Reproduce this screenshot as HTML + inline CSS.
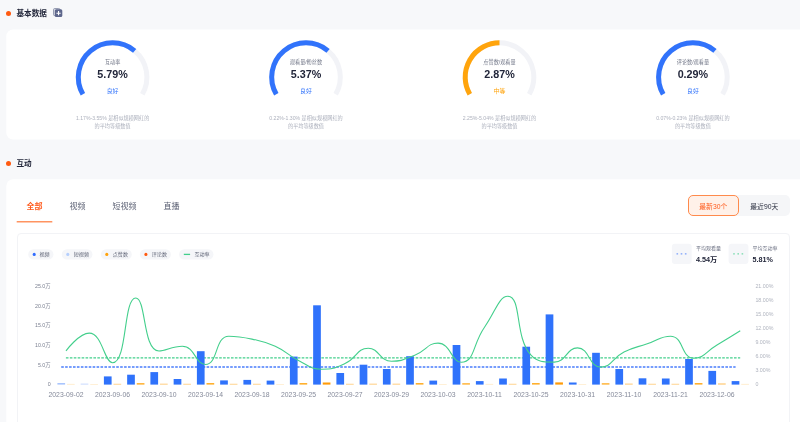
<!DOCTYPE html>
<html lang="zh-CN">
<head>
<meta charset="utf-8">
<title>基本数据</title>
<style>
*{box-sizing:border-box;margin:0;padding:0}
html,body{width:800px;height:422px;overflow:hidden}
body{background:#f7f8fa;font-family:"Liberation Sans", "Noto Sans CJK SC", sans-serif;position:relative;color:#22263a}
.sec{position:absolute;left:0;height:12px;display:flex;align-items:center}
.sec .dot{position:absolute;left:6px;top:3.5px;width:5px;height:5px;border-radius:50%;background:#ff5a10}
.sec h2{position:absolute;left:16.5px;top:0.7px;font-size:7.6px;line-height:12px;font-weight:700;white-space:nowrap;color:#22263a}
.card{position:absolute;left:6px;width:794px}
svg.bg{z-index:0}
.tabs{position:absolute;left:0;top:0}
.tab{position:absolute;top:21px;font-size:8px;line-height:12px;color:#5d6275;white-space:nowrap;transform:translateX(-50%)}
.tab.on{color:#ff5a1c;font-weight:700}
.ink{position:absolute;left:10.6px;top:40.9px;width:35.8px;height:1.5px;background:#ff9a68;border-radius:1px}
.btn{position:absolute;top:15px;height:21px;font-size:6.8px;line-height:23.2px;text-align:center;white-space:nowrap}
.btn.a{left:681.7px;width:51.2px;border:1px solid #ff8a4c;background:#fff1e9;color:#ff5a1c;border-radius:5px;line-height:21.2px;z-index:2}
.btn.b{left:730px;width:53.6px;background:#f5f6f8;color:#2a2e3f;border-radius:0 5px 5px 0;padding-left:3px}
.inner{position:absolute;left:10.6px;top:53px;width:773px;height:200px;border:1px solid #f2f3f6;border-radius:4px}
svg{position:absolute;left:0;top:0;font-family:"Liberation Sans", "Noto Sans CJK SC", sans-serif}
.copy{position:absolute;left:53px;top:8px;width:10px;height:10px}
</style>
</head>
<body>
<svg class="bg" width="800" height="422" viewBox="0 0 800 422"><rect x="6.3" y="29.5" width="810" height="110.1" rx="6.8" fill="#fff"/><rect x="6.3" y="179.2" width="810" height="300" rx="6.8" fill="#fff"/></svg>
<div class="sec" style="top:7px"><span class="dot"></span><h2>基本数据</h2></div>
<div class="card" style="top:29px;height:110.4px"></div>
<div class="sec" style="top:157px"><span class="dot"></span><h2>互动</h2></div>
<div class="card" style="top:180px;height:260px">
  <div class="tab on" style="left:28.4px">全部</div>
  <div class="tab" style="left:71.6px">视频</div>
  <div class="tab" style="left:118.5px">短视频</div>
  <div class="tab" style="left:165.5px">直播</div>
  <div class="btn b">最近90天</div>
  <div class="btn a">最新30个</div>
  <div class="inner"></div>
</div>
<svg width="800" height="422" viewBox="0 0 800 422">
<rect x="16.6" y="220.9" width="35.8" height="1.5" rx="0.5" fill="#ff9461"/>
<g id="copy-icon"><rect x="53.5" y="8.5" width="6.5" height="7.2" rx="1.3" fill="#dcdfe8" stroke="#8289a2" stroke-width="0.8"/><rect x="54.8" y="9.3" width="7.5" height="7.7" rx="1.5" fill="#5e678c"/><path d="M58.55 11.1v4.2M56.45 13.2h4.2" stroke="#fff" stroke-width="1.1"/></g>
<g id="gauges">
<path d="M82.90 94.25A34.3 34.3 0 1 1 142.30 94.25" fill="none" stroke="#f2f3f7" stroke-width="5.0"/>
<path d="M82.90 94.25A34.3 34.3 0 0 1 134.65 50.82" fill="none" stroke="#3173fb" stroke-width="5.0"/>
<text x="112.6" y="63.8" text-anchor="middle" font-size="5.15" fill="#737889">互动率</text>
<text x="112.6" y="77.6" text-anchor="middle" font-size="10.6" font-weight="700" fill="#22263a" textLength="30.5" lengthAdjust="spacingAndGlyphs">5.79%</text>
<text x="112.6" y="92.8" text-anchor="middle" font-size="5.9" font-weight="400" fill="#3173fb">良好</text>
<text x="112.6" y="120" text-anchor="middle" font-size="5.15" fill="#adb1bd">1.17%-3.55% 是相似规模网红的</text>
<text x="112.6" y="127.6" text-anchor="middle" font-size="5.15" fill="#adb1bd">的平均等级数值</text>
<path d="M276.30 94.25A34.3 34.3 0 1 1 335.70 94.25" fill="none" stroke="#f2f3f7" stroke-width="5.0"/>
<path d="M276.30 94.25A34.3 34.3 0 0 1 328.05 50.82" fill="none" stroke="#3173fb" stroke-width="5.0"/>
<text x="306.0" y="63.8" text-anchor="middle" font-size="5.15" fill="#737889">观看量/粉丝数</text>
<text x="306.0" y="77.6" text-anchor="middle" font-size="10.6" font-weight="700" fill="#22263a" textLength="30.5" lengthAdjust="spacingAndGlyphs">5.37%</text>
<text x="306.0" y="92.8" text-anchor="middle" font-size="5.9" font-weight="400" fill="#3173fb">良好</text>
<text x="306.0" y="120" text-anchor="middle" font-size="5.15" fill="#adb1bd">0.22%-1.30% 是相似规模网红的</text>
<text x="306.0" y="127.6" text-anchor="middle" font-size="5.15" fill="#adb1bd">的平均等级数值</text>
<path d="M469.80 94.25A34.3 34.3 0 1 1 529.20 94.25" fill="none" stroke="#f2f3f7" stroke-width="5.0"/>
<path d="M469.80 94.25A34.3 34.3 0 0 1 499.50 42.80" fill="none" stroke="#ffa40c" stroke-width="5.0"/>
<text x="499.5" y="63.8" text-anchor="middle" font-size="5.15" fill="#737889">点赞数/观看量</text>
<text x="499.5" y="77.6" text-anchor="middle" font-size="10.6" font-weight="700" fill="#22263a" textLength="30.5" lengthAdjust="spacingAndGlyphs">2.87%</text>
<text x="499.5" y="92.8" text-anchor="middle" font-size="5.9" font-weight="400" fill="#ffa40c">中等</text>
<text x="499.5" y="120" text-anchor="middle" font-size="5.15" fill="#adb1bd">2.25%-5.04% 是相似规模网红的</text>
<text x="499.5" y="127.6" text-anchor="middle" font-size="5.15" fill="#adb1bd">的平均等级数值</text>
<path d="M663.20 94.25A34.3 34.3 0 1 1 722.60 94.25" fill="none" stroke="#f2f3f7" stroke-width="5.0"/>
<path d="M663.20 94.25A34.3 34.3 0 0 1 714.95 50.82" fill="none" stroke="#3173fb" stroke-width="5.0"/>
<text x="692.9" y="63.8" text-anchor="middle" font-size="5.15" fill="#737889">评论数/观看量</text>
<text x="692.9" y="77.6" text-anchor="middle" font-size="10.6" font-weight="700" fill="#22263a" textLength="30.5" lengthAdjust="spacingAndGlyphs">0.29%</text>
<text x="692.9" y="92.8" text-anchor="middle" font-size="5.9" font-weight="400" fill="#3173fb">良好</text>
<text x="692.9" y="120" text-anchor="middle" font-size="5.15" fill="#adb1bd">0.07%-0.23% 是相似规模网红的</text>
<text x="692.9" y="127.6" text-anchor="middle" font-size="5.15" fill="#adb1bd">的平均等级数值</text>
</g>
<g id="legend">
<rect x="28.2" y="249.2" width="25.3" height="10.4" rx="5.2" fill="#f5f6f9"/>
<circle cx="34.2" cy="254.4" r="1.55" fill="#2f6bff"/>
<text x="44.6" y="256.4" text-anchor="middle" font-size="5.05" fill="#5f6476">视频</text>
<rect x="61.7" y="249.2" width="30.8" height="10.4" rx="5.2" fill="#f5f6f9"/>
<circle cx="67.8" cy="254.4" r="1.55" fill="#b5cffd"/>
<text x="81.4" y="256.4" text-anchor="middle" font-size="5.05" fill="#5f6476">短视频</text>
<rect x="100.8" y="249.2" width="31.0" height="10.4" rx="5.2" fill="#f5f6f9"/>
<circle cx="106.8" cy="254.4" r="1.55" fill="#ffa30d"/>
<text x="120.4" y="256.4" text-anchor="middle" font-size="5.05" fill="#5f6476">点赞数</text>
<rect x="139.8" y="249.2" width="31.1" height="10.4" rx="5.2" fill="#f5f6f9"/>
<circle cx="145.9" cy="254.4" r="1.55" fill="#ff5a10"/>
<text x="159.4" y="256.4" text-anchor="middle" font-size="5.05" fill="#5f6476">评论数</text>
<rect x="179.1" y="249.2" width="34.4" height="10.4" rx="5.2" fill="#f5f6f9"/>
<path d="M183.8 254.4H190.1" stroke="#43cf8c" stroke-width="1.3"/>
<text x="202" y="256.4" text-anchor="middle" font-size="5.05" fill="#5f6476">互动率</text>
<rect x="671.9" y="243.8" width="19.8" height="20.2" rx="3" fill="#f5f6f9"/>
<path d="M676.5 253.9h11" stroke="#4a7dfc" stroke-width="0.9" stroke-dasharray="1.6 2.6" fill="none"/>
<text x="695.9" y="249.6" font-size="5" fill="#6d7284">平均观看量</text>
<text x="695.9" y="262.0" font-size="7.2" font-weight="700" fill="#22263a">4.54万</text>
<rect x="728.6" y="243.8" width="19.8" height="20.2" rx="3" fill="#f5f6f9"/>
<path d="M733.2 253.9h11" stroke="#43cf8c" stroke-width="0.9" stroke-dasharray="1.6 2.6" fill="none"/>
<text x="752.6" y="249.6" font-size="5" fill="#6d7284">平均互动率</text>
<text x="752.6" y="262.0" font-size="7.2" font-weight="700" fill="#22263a">5.81%</text>
</g>
<g id="chart">
<text x="50.6" y="386.1" text-anchor="end" font-size="5.3" fill="#7a7f90">0</text>
<text x="50.6" y="366.5" text-anchor="end" font-size="5.3" fill="#7a7f90">5.0万</text>
<text x="50.6" y="346.9" text-anchor="end" font-size="5.3" fill="#7a7f90">10.0万</text>
<text x="50.6" y="327.2" text-anchor="end" font-size="5.3" fill="#7a7f90">15.0万</text>
<text x="50.6" y="307.6" text-anchor="end" font-size="5.3" fill="#7a7f90">20.0万</text>
<text x="50.6" y="288.0" text-anchor="end" font-size="5.3" fill="#7a7f90">25.0万</text>
<text x="755.4" y="385.9" font-size="5.3" fill="#b0b4bf">0</text>
<text x="755.4" y="372.0" font-size="5.3" fill="#b0b4bf">3.00%</text>
<text x="755.4" y="358.0" font-size="5.3" fill="#b0b4bf">6.00%</text>
<text x="755.4" y="344.1" font-size="5.3" fill="#b0b4bf">9.00%</text>
<text x="755.4" y="330.2" font-size="5.3" fill="#b0b4bf">12.00%</text>
<text x="755.4" y="316.2" font-size="5.3" fill="#b0b4bf">15.00%</text>
<text x="755.4" y="302.3" font-size="5.3" fill="#b0b4bf">18.00%</text>
<text x="755.4" y="288.4" font-size="5.3" fill="#b0b4bf">21.00%</text>
<text x="66.00" y="396.5" text-anchor="middle" font-size="6.85" fill="#858a9a">2023-09-02</text>
<text x="112.50" y="396.5" text-anchor="middle" font-size="6.85" fill="#858a9a">2023-09-06</text>
<text x="159.00" y="396.5" text-anchor="middle" font-size="6.85" fill="#858a9a">2023-09-10</text>
<text x="205.50" y="396.5" text-anchor="middle" font-size="6.85" fill="#858a9a">2023-09-14</text>
<text x="252.00" y="396.5" text-anchor="middle" font-size="6.85" fill="#858a9a">2023-09-18</text>
<text x="298.50" y="396.5" text-anchor="middle" font-size="6.85" fill="#858a9a">2023-09-25</text>
<text x="345.00" y="396.5" text-anchor="middle" font-size="6.85" fill="#858a9a">2023-09-27</text>
<text x="391.50" y="396.5" text-anchor="middle" font-size="6.85" fill="#858a9a">2023-09-29</text>
<text x="438.00" y="396.5" text-anchor="middle" font-size="6.85" fill="#858a9a">2023-10-03</text>
<text x="484.50" y="396.5" text-anchor="middle" font-size="6.85" fill="#858a9a">2023-10-11</text>
<text x="531.00" y="396.5" text-anchor="middle" font-size="6.85" fill="#858a9a">2023-10-25</text>
<text x="577.50" y="396.5" text-anchor="middle" font-size="6.85" fill="#858a9a">2023-10-31</text>
<text x="624.00" y="396.5" text-anchor="middle" font-size="6.85" fill="#858a9a">2023-11-10</text>
<text x="670.50" y="396.5" text-anchor="middle" font-size="6.85" fill="#858a9a">2023-11-21</text>
<text x="717.00" y="396.5" text-anchor="middle" font-size="6.85" fill="#858a9a">2023-12-06</text>
<path d="M61.2 367H735.6" stroke="#4a7dfc" stroke-width="1.3" stroke-dasharray="2.6 1.33" fill="none"/>
<path d="M65.9 357.8H740.2" stroke="#43cf8c" stroke-width="1.3" stroke-dasharray="2.6 1.33" fill="none"/>
<rect x="57.40" y="383.0" width="7.7" height="1.6" fill="#a9c5fd"/>
<rect x="67.00" y="383.9" width="7.7" height="0.7" fill="#ffe6bd"/>
<rect x="80.65" y="383.6" width="7.7" height="1.0" fill="#c9dafe"/>
<rect x="90.25" y="384.0" width="7.7" height="0.6" fill="#ffe6bd"/>
<rect x="103.90" y="376.4" width="7.7" height="8.2" fill="#2f72fb"/>
<rect x="113.50" y="383.8" width="7.7" height="0.8" fill="#ffc873"/>
<rect x="127.15" y="374.7" width="7.7" height="9.9" fill="#2f72fb"/>
<rect x="136.75" y="383.1" width="7.7" height="1.5" fill="#ffb02e"/>
<rect x="150.40" y="372.1" width="7.7" height="12.5" fill="#2f72fb"/>
<rect x="160.00" y="383.7" width="7.7" height="0.9" fill="#ffc873"/>
<rect x="173.65" y="379.0" width="7.7" height="5.6" fill="#2f72fb"/>
<rect x="183.25" y="383.8" width="7.7" height="0.8" fill="#ffc873"/>
<rect x="196.90" y="351.2" width="7.7" height="33.4" fill="#2f72fb"/>
<rect x="206.50" y="383.0" width="7.7" height="1.6" fill="#ffb02e"/>
<rect x="220.15" y="380.4" width="7.7" height="4.2" fill="#2f72fb"/>
<rect x="229.75" y="383.8" width="7.7" height="0.8" fill="#ffc873"/>
<rect x="243.40" y="379.9" width="7.7" height="4.7" fill="#2f72fb"/>
<rect x="253.00" y="383.8" width="7.7" height="0.8" fill="#ffc873"/>
<rect x="266.65" y="380.6" width="7.7" height="4.0" fill="#2f72fb"/>
<rect x="276.25" y="384.0" width="7.7" height="0.6" fill="#ffe6bd"/>
<rect x="289.90" y="356.6" width="7.7" height="28.0" fill="#2f72fb"/>
<rect x="299.50" y="383.0" width="7.7" height="1.6" fill="#ffb02e"/>
<rect x="313.15" y="305.3" width="7.7" height="79.3" fill="#2f72fb"/>
<rect x="322.75" y="382.5" width="7.7" height="2.1" fill="#ff9b08"/>
<rect x="336.40" y="373.0" width="7.7" height="11.6" fill="#2f72fb"/>
<rect x="346.00" y="383.8" width="7.7" height="0.8" fill="#ffc873"/>
<rect x="359.65" y="364.7" width="7.7" height="19.9" fill="#2f72fb"/>
<rect x="369.25" y="383.7" width="7.7" height="0.9" fill="#ffc873"/>
<rect x="382.90" y="369.0" width="7.7" height="15.6" fill="#2f72fb"/>
<rect x="392.50" y="383.7" width="7.7" height="0.9" fill="#ffc873"/>
<rect x="406.15" y="356.2" width="7.7" height="28.4" fill="#2f72fb"/>
<rect x="415.75" y="383.0" width="7.7" height="1.6" fill="#ffb02e"/>
<rect x="429.40" y="380.6" width="7.7" height="4.0" fill="#2f72fb"/>
<rect x="439.00" y="384.0" width="7.7" height="0.6" fill="#ffe6bd"/>
<rect x="452.65" y="345.0" width="7.7" height="39.6" fill="#2f72fb"/>
<rect x="462.25" y="383.2" width="7.7" height="1.4" fill="#ffb02e"/>
<rect x="475.90" y="381.1" width="7.7" height="3.5" fill="#2f72fb"/>
<rect x="485.50" y="383.9" width="7.7" height="0.7" fill="#ffe6bd"/>
<rect x="499.15" y="378.5" width="7.7" height="6.1" fill="#2f72fb"/>
<rect x="508.75" y="383.8" width="7.7" height="0.8" fill="#ffc873"/>
<rect x="522.40" y="346.7" width="7.7" height="37.9" fill="#2f72fb"/>
<rect x="532.00" y="383.0" width="7.7" height="1.6" fill="#ffb02e"/>
<rect x="545.65" y="314.4" width="7.7" height="70.2" fill="#2f72fb"/>
<rect x="555.25" y="382.4" width="7.7" height="2.2" fill="#ff9b08"/>
<rect x="568.90" y="382.5" width="7.7" height="2.1" fill="#2f72fb"/>
<rect x="578.50" y="384.0" width="7.7" height="0.6" fill="#ffe6bd"/>
<rect x="592.15" y="352.8" width="7.7" height="31.8" fill="#2f72fb"/>
<rect x="601.75" y="383.2" width="7.7" height="1.4" fill="#ffb02e"/>
<rect x="615.40" y="369.0" width="7.7" height="15.6" fill="#2f72fb"/>
<rect x="625.00" y="383.6" width="7.7" height="1.0" fill="#ffc873"/>
<rect x="638.65" y="378.3" width="7.7" height="6.3" fill="#2f72fb"/>
<rect x="648.25" y="383.8" width="7.7" height="0.8" fill="#ffc873"/>
<rect x="661.90" y="378.5" width="7.7" height="6.1" fill="#2f72fb"/>
<rect x="671.50" y="383.8" width="7.7" height="0.8" fill="#ffc873"/>
<rect x="685.15" y="359.0" width="7.7" height="25.6" fill="#2f72fb"/>
<rect x="694.75" y="383.0" width="7.7" height="1.6" fill="#ffb02e"/>
<rect x="708.40" y="370.9" width="7.7" height="13.7" fill="#2f72fb"/>
<rect x="718.00" y="383.4" width="7.7" height="1.2" fill="#ffc873"/>
<rect x="731.65" y="381.1" width="7.7" height="3.5" fill="#2f72fb"/>
<rect x="741.25" y="383.9" width="7.7" height="0.7" fill="#ffe6bd"/>
<path d="M66.00 350.90C66.00 350.90 79.09 333.10 89.25 333.10C102.34 333.10 104.27 362.80 112.50 362.80C127.52 362.80 123.12 298.00 135.75 298.00C146.37 298.00 142.51 351.00 159.00 351.00C165.76 351.00 171.90 346.20 182.25 346.20C195.15 346.20 195.11 364.50 205.50 364.50C218.36 364.50 214.57 336.20 228.75 336.20C237.82 336.20 240.59 336.65 252.00 339.10C263.84 341.65 264.29 341.18 275.25 346.20C287.54 351.83 286.34 354.39 298.50 360.40C309.59 365.89 309.91 369.20 321.75 369.20C333.16 369.20 334.24 368.34 345.00 363.50C357.49 357.89 356.37 348.30 368.25 348.30C379.62 348.30 379.28 361.20 391.50 361.20C402.53 361.20 403.63 359.53 414.75 355.20C426.88 350.48 427.19 343.10 438.00 343.10C450.44 343.10 451.55 362.30 461.25 362.30C474.80 362.30 472.38 344.40 484.50 327.20C495.63 311.40 498.93 296.30 507.75 296.30C522.18 296.30 514.19 337.18 531.00 355.20C537.44 362.10 543.30 362.10 554.25 362.10C566.55 362.10 566.46 347.90 577.50 347.90C589.71 347.90 588.63 367.10 600.75 367.10C611.88 367.10 611.71 358.26 624.00 352.10C634.96 346.61 635.57 347.79 647.25 343.80C658.82 339.84 660.44 336.20 670.50 336.20C683.69 336.20 681.08 358.30 693.75 358.30C704.33 358.30 705.47 351.82 717.00 345.00C728.72 338.07 740.25 330.80 740.25 330.80" stroke="#43cf8c" stroke-width="1.1" fill="none" stroke-linejoin="round"/>
</g>
</svg>
</body>
</html>
